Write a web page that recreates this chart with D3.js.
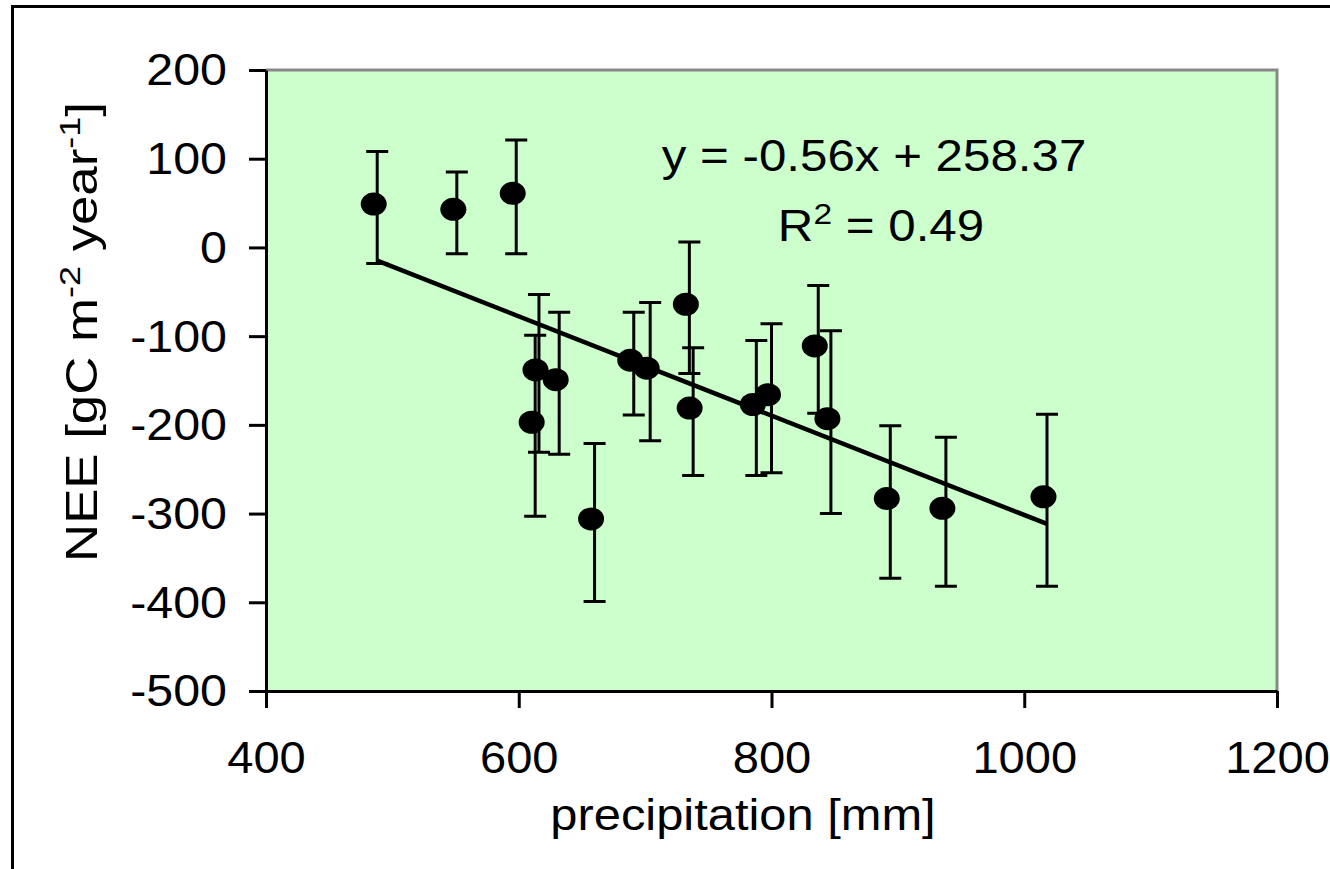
<!DOCTYPE html>
<html>
<head>
<meta charset="utf-8">
<script src="https://cdn.jsdelivr.net/npm/d3@7"></script>
<style>
  body { margin: 0; background: #fff; }
  svg { display: block; font-family: "Liberation Sans", Arial, sans-serif; }
</style>
</head>
<body>
<svg id="chart" width="1330" height="869"></svg>
<script>
// precipitation [mm], NEE mean and error (half length of the bar)
const precip = [488, 551, 598, 616, 613, 632, 691, 704, 660, 735, 738, 788, 800, 837, 847, 894, 938, 1018]
const nee = [45, 39, 57, -142, -201, -153, -131, -140, -310, -68, -185, -181, -170, -115, -197, -287, -298, -285]
const neeErr = [63, 46, 64, 89, 102, 80, 58, 78, 89, 74, 72, 76, 84, 72, 103, 86, 84, 97]
const xTicks = [400, 600, 800, 1000, 1200]
const yTicks = [200, 100, 0, -100, -200, -300, -400, -500]
const slope = -0.56
const intercept = 258.37

let svg = d3.select('#chart')
let plotL = 266, plotR = 1277, plotT = 70, plotB = 691
let fontSize = 44
let stretch = 1.1   // text in the reference is a bit wider than Arial

let x = d3.scaleLinear().domain([400, 1200]).range([plotL, plotR])
let y = d3.scaleLinear().domain([-500, 200]).range([plotB, plotT])

// outer frame, cut off at right and bottom
svg.append('rect')
  .attr('x', 12.5).attr('y', 6.5)
  .attr('width', 1400).attr('height', 900)
  .attr('fill', 'none').attr('stroke', '#000').attr('stroke-width', 3)

// plot area
svg.append('rect')
  .attr('x', plotL).attr('y', plotT)
  .attr('width', plotR - plotL).attr('height', plotB - plotT)
  .attr('fill', '#ccffcc')
svg.append('path')
  .attr('d', `M${plotL},${plotT}H${plotR}V${plotB}`)
  .attr('fill', 'none').attr('stroke', '#888').attr('stroke-width', 3)

// axes
let fmt = d => String(d)
let xAxis = svg.append('g')
  .attr('transform', `translate(0,${plotB})`)
  .call(d3.axisBottom(x).tickValues(xTicks).tickFormat(fmt).tickSize(17).tickPadding(34).tickSizeOuter(0))
let yAxis = svg.append('g')
  .attr('transform', `translate(${plotL},0)`)
  .call(d3.axisLeft(y).tickValues(yTicks).tickFormat(fmt).tickSize(17).tickPadding(22).tickSizeOuter(0))

;[xAxis, yAxis].forEach(ax => {
  ax.select('.domain').attr('stroke', '#000').attr('stroke-width', 3)
  ax.selectAll('.tick line').attr('stroke', '#000').attr('stroke-width', 3)
  ax.selectAll('.tick text')
    .attr('fill', '#000')
    .style('font-size', fontSize + 'px')
    .style('font-family', '"Liberation Sans", Arial, sans-serif')
})
xAxis.selectAll('.tick text').attr('transform', 'scale(1.07,1)')
yAxis.selectAll('.tick text')
  .attr('dy', '0.34em')
  .attr('x', -39 / stretch)
  .attr('transform', `scale(${stretch},1)`)

// error bars
let capW = 11
let bars = svg.append('g').attr('stroke', '#000').attr('stroke-width', 3).attr('fill', 'none')
precip.forEach((p, i) => {
  let cx = x(p)
  let y0 = y(nee[i] - neeErr[i])
  let y1 = y(nee[i] + neeErr[i])
  bars.append('path')
    .attr('d', `M${cx},${y0}V${y1}M${cx - capW},${y0}H${cx + capW}M${cx - capW},${y1}H${cx + capW}`)
})

// trend line over the data range
let xMin = d3.min(precip), xMax = d3.max(precip)
svg.append('line')
  .attr('x1', x(xMin)).attr('y1', y(slope * xMin + intercept))
  .attr('x2', x(xMax)).attr('y2', y(slope * xMax + intercept))
  .attr('stroke', '#000').attr('stroke-width', 4.5)

// markers
svg.append('g').selectAll('ellipse')
  .data(precip)
  .join('ellipse')
  .attr('cx', (d, i) => x(d) - 3.5)
  .attr('cy', (d, i) => y(nee[i]) - 3.5)
  .attr('rx', 13).attr('ry', 11.5)
  .attr('fill', '#000')

// equation
svg.append('text')
  .attr('transform', `translate(874,171) scale(1.12,1)`)
  .attr('text-anchor', 'middle')
  .style('font-size', fontSize + 'px')
  .text('y = -0.56x + 258.37')
let r2 = svg.append('text')
  .attr('transform', `translate(881,241) scale(1.12,1)`)
  .attr('text-anchor', 'middle')
  .style('font-size', fontSize + 'px')
r2.append('tspan').text('R')
r2.append('tspan').attr('dy', -17).style('font-size', '30px').text('2')
r2.append('tspan').attr('dy', 17).text(' = 0.49')

// axis titles
svg.append('text')
  .attr('transform', `translate(743,830) scale(1.11,1)`)
  .attr('text-anchor', 'middle')
  .style('font-size', fontSize + 'px')
  .text('precipitation [mm]')

let yt = svg.append('text')
  .attr('transform', 'translate(97,332) rotate(-90) scale(1.2,1)')
  .attr('text-anchor', 'middle')
  .style('font-size', fontSize + 'px')
yt.append('tspan').text('NEE [gC m')
yt.append('tspan').attr('dy', -17).style('font-size', '30px').text('-2')
yt.append('tspan').attr('dy', 17).text(' year')
yt.append('tspan').attr('dy', -17).style('font-size', '30px').text('-1')
yt.append('tspan').attr('dy', 17).text(']')
</script>
</body>
</html>
